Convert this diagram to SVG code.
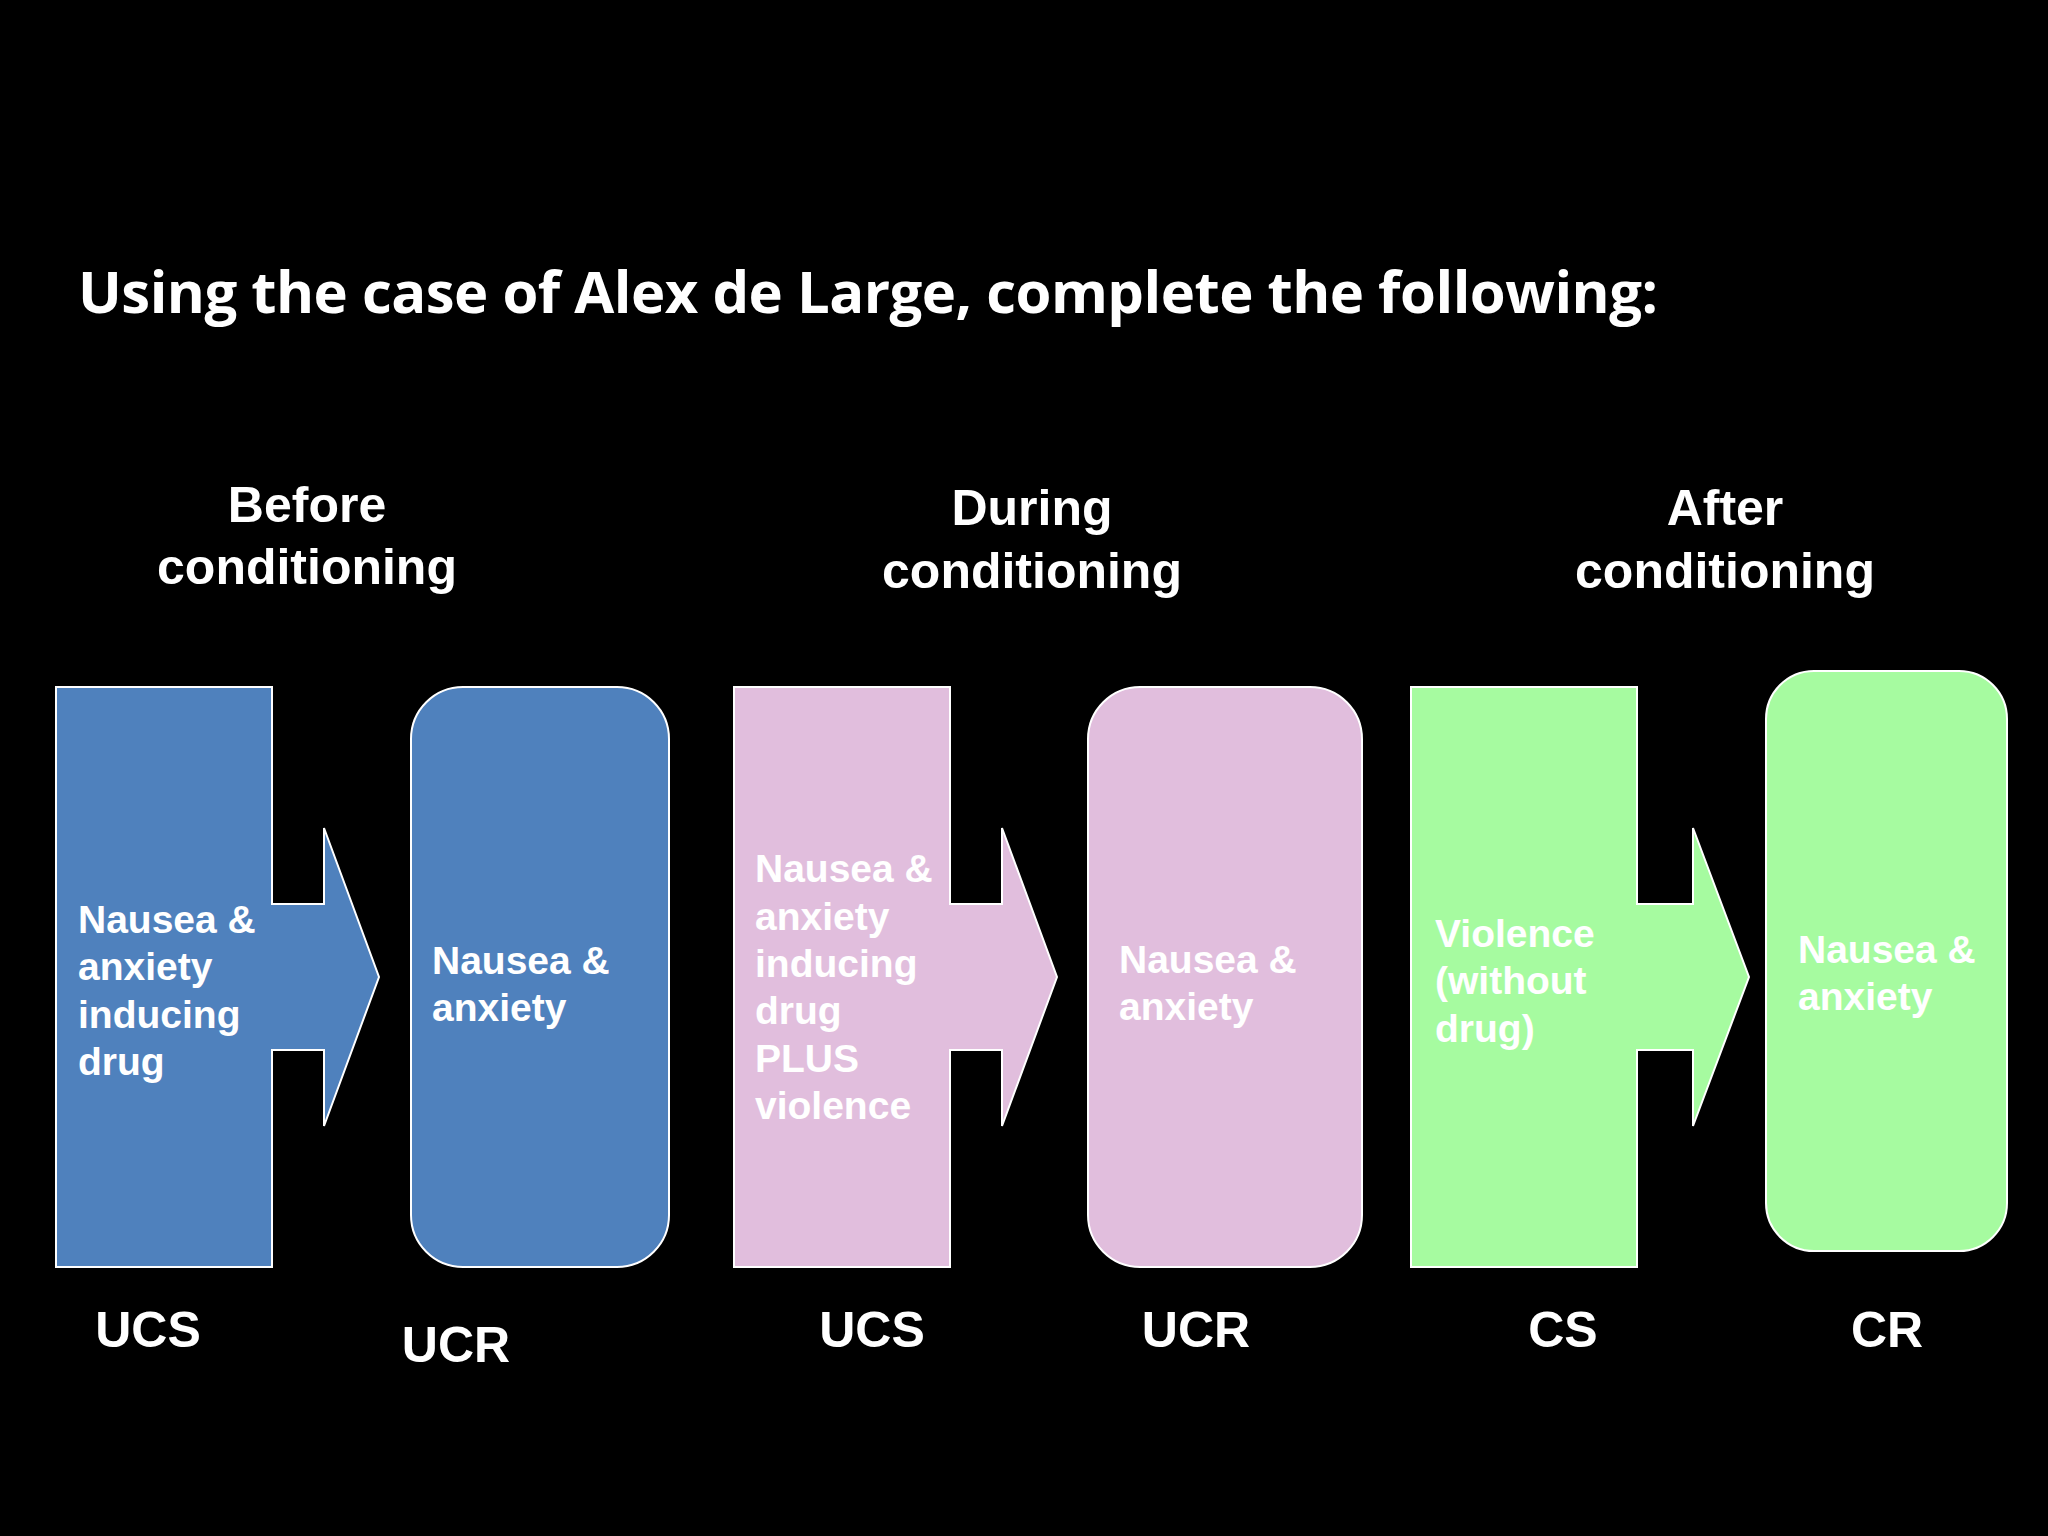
<svg xmlns="http://www.w3.org/2000/svg" width="2048" height="1536" viewBox="0 0 2048 1536">
<style>
.t{font-family:"Liberation Sans","DejaVu Sans",sans-serif;font-weight:bold;fill:#fff}
.h{font-size:50px;text-anchor:middle}
.b{font-size:39px}
.l{font-size:50px;text-anchor:middle}
.s{stroke:#fff;stroke-width:2}
</style>
<rect width="2048" height="1536" fill="#000"/>
<text class="t" x="78" y="313" style="font-family:'Open Sans','Liberation Sans',sans-serif;font-size:58px" textLength="1580">Using the case of Alex de Large, complete the following:</text>
<g id="headings">
<text class="t h" x="307" y="522">Before</text><text class="t h" x="307" y="584">conditioning</text>
<text class="t h" x="1032" y="525">During</text><text class="t h" x="1032" y="588">conditioning</text>
<text class="t h" x="1725" y="525">After</text><text class="t h" x="1725" y="588">conditioning</text>
</g>
<g id="n1"><path class="s" fill="#4f81bd" d="M56 687H272V904H324V828L379 977L324 1126V1050H272V1267H56Z"/>
<text class="t b"><tspan x="78" y="933">Nausea &amp;</tspan><tspan x="78" y="980">anxiety</tspan><tspan x="78" y="1028">inducing</tspan><tspan x="78" y="1075">drug</tspan></text></g>
<g id="n2"><rect class="s" fill="#4f81bd" x="411" y="687" width="258" height="580" rx="52"/>
<text class="t b"><tspan x="432" y="974">Nausea &amp;</tspan><tspan x="432" y="1021">anxiety</tspan></text></g>
<g id="n3"><path class="s" fill="#e1bedd" d="M734 687H950V904H1002V828L1057 977L1002 1126V1050H950V1267H734Z"/>
<text class="t b"><tspan x="755" y="882">Nausea &amp;</tspan><tspan x="755" y="930">anxiety</tspan><tspan x="755" y="977">inducing</tspan><tspan x="755" y="1024">drug</tspan><tspan x="755" y="1072">PLUS</tspan><tspan x="755" y="1119">violence</tspan></text></g>
<g id="n4"><rect class="s" fill="#e1bedd" x="1088" y="687" width="274" height="580" rx="52"/>
<text class="t b"><tspan x="1119" y="973">Nausea &amp;</tspan><tspan x="1119" y="1020">anxiety</tspan></text></g>
<g id="n5"><path class="s" fill="#a6fba0" d="M1411 687H1637V904H1693V828L1749 977L1693 1126V1050H1637V1267H1411Z"/>
<text class="t b"><tspan x="1435" y="947">Violence</tspan><tspan x="1435" y="994">(without</tspan><tspan x="1435" y="1042">drug)</tspan></text></g>
<g id="n6"><rect class="s" fill="#a6fba0" x="1766" y="671" width="241" height="580" rx="48"/>
<text class="t b"><tspan x="1798" y="963">Nausea &amp;</tspan><tspan x="1798" y="1010">anxiety</tspan></text></g>
<g id="labels">
<text class="t l" x="148" y="1347">UCS</text><text class="t l" x="456" y="1362">UCR</text>
<text class="t l" x="872" y="1347">UCS</text><text class="t l" x="1196" y="1347">UCR</text>
<text class="t l" x="1563" y="1347">CS</text><text class="t l" x="1887" y="1347">CR</text>
</g>
<g id="connectors"/>
</svg>
